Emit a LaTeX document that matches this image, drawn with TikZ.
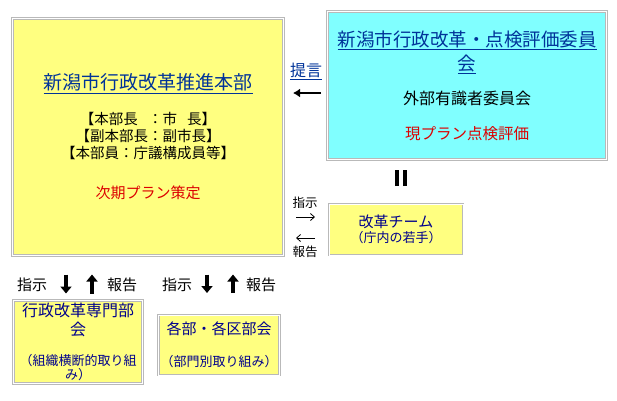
\documentclass[tikz,border=0pt]{standalone}
\usepackage{fontspec}
\setmainfont{Noto Sans CJK JP}
\usetikzlibrary{calc,arrows.meta}
\definecolor{boxyellow}{RGB}{255,255,128}
\definecolor{boxcyan}{RGB}{128,255,255}
\definecolor{linkblue}{RGB}{0,51,153}
\definecolor{teamnavy}{RGB}{0,0,140}
\definecolor{planred}{RGB}{220,0,0}
\newcommand{\jsize}[1]{\fontsize{#1}{#1}\selectfont}
\lineskiplimit=-50pt

\begin{document}
\begin{tikzpicture}[
    x=1pt, y=-1pt,
    box/.style={draw=gray!55, double=white, double distance=1pt, line width=0.8pt,
        inner sep=0pt, outer sep=0pt, align=center},
    lbl/.style={inner sep=0pt, font=\jsize{15}},
    smalllbl/.style={inner sep=0pt, font=\jsize{12.5}},
    heavyarrow/.style={line width=3.5pt, -{Triangle[length=7pt,width=11pt]}},
    medarrow/.style={line width=1.8pt, -{Latex[length=7pt,width=9pt]}},
    thinarrow/.style={line width=0.8pt, -{Straight Barb[length=4pt,width=7pt]}}
]
    \useasboundingbox (0,0) rectangle (617,400);

    % main boxes
    \node[box, fill=boxyellow, minimum width=271pt, minimum height=237pt,
          font=\fontsize{14.5}{17}\selectfont] (hq) at (148,137) {
        {\jsize{19}\color{linkblue}\underline{新潟市行政改革推進本部}}\\[17.3pt]
        【本部長\hspace{.7em}：市\hspace{.7em}長】\\
        【副本部長：副市長】\\
        【本部員：庁議構成員等】\\[23.6pt]
        {\jsize{15}\color{planred}次期プラン策定}
    };
    \node[box, fill=boxcyan, minimum width=279pt, minimum height=148pt,
          font=\fontsize{16}{19}\selectfont] (comm) at (467,85.5) {
        {\jsize{18.5}\color{linkblue}\underline{新潟市行政改革・点検評価委員}}\\[5pt]
        {\jsize{18.5}\color{linkblue}\underline{会}}\\[14.9pt]
        外部有識者委員会\\[16pt]
        {\jsize{15.5}\color{planred}現プラン点検評価}
    };
    \node[box, fill=boxyellow, minimum width=134pt, minimum height=51pt,
          font=\fontsize{15}{15.2}\selectfont, text=teamnavy] (team) at (396,229.5) {
        改革チーム\\
        {\jsize{13}（庁内の若手）}
    };
    \node[box, fill=boxyellow, minimum width=129pt, minimum height=83pt,
          font=\fontsize{16}{19}\selectfont, text=teamnavy] (sub1) at (78,342) {
        行政改革専門部\\
        会\\[10.8pt]
        {\jsize{13}（組織横断的取り組}\\[-5.5pt]
        {\jsize{13}み）}
    };
    \node[box, fill=boxyellow, minimum width=121pt, minimum height=60pt,
          font=\fontsize{15}{18}\selectfont, text=teamnavy] (sub2) at (219,345) {
        各部・各区部会\\[14.2pt]
        {\jsize{13}（部門別取り組み）}
    };

    % labels
    \node[lbl, font=\jsize{16}] (teigen) at (306,71) {\color{linkblue}\underline{提言}};
    \node[smalllbl] (shiji0) at (305,203) {指示};
    \node[smalllbl] (houkoku0) at (305,252) {報告};
    \node[lbl] (shiji1) at (32,285) {指示};
    \node[lbl] (houkoku1) at (122,285) {報告};
    \node[lbl] (shiji2) at (177,285) {指示};
    \node[lbl] (houkoku2) at (261,285) {報告};
    \node[inner sep=0pt] (eqmark) at (401,178) {\rule{4pt}{16pt}\hspace{4pt}\rule{4pt}{16pt}};

    % connectors
    \draw[medarrow] ($(comm.west)+(-6.5,7.5)$) -- ($(hq.east)+(9.5,-44)$);
    \draw[thinarrow] ($(hq.east)+(12.5,80)$) -- ($(team.west)+(-14,-12.5)$);
    \draw[thinarrow] ($(team.west)+(-14,8.5)$) -- ($(hq.east)+(12.5,101)$);
    \draw[heavyarrow] ($(hq.south)+(-82,19)$) -- ($(sub1.north)+(-12,-7)$);
    \draw[heavyarrow] ($(sub1.north)+(14,-7)$) -- ($(hq.south)+(-56,19)$);
    \draw[heavyarrow] ($(hq.south)+(59,19)$) -- ($(sub2.north)+(-12,-22)$);
    \draw[heavyarrow] ($(sub2.north)+(14,-22)$) -- ($(hq.south)+(85,19)$);
\end{tikzpicture}
\end{document}
